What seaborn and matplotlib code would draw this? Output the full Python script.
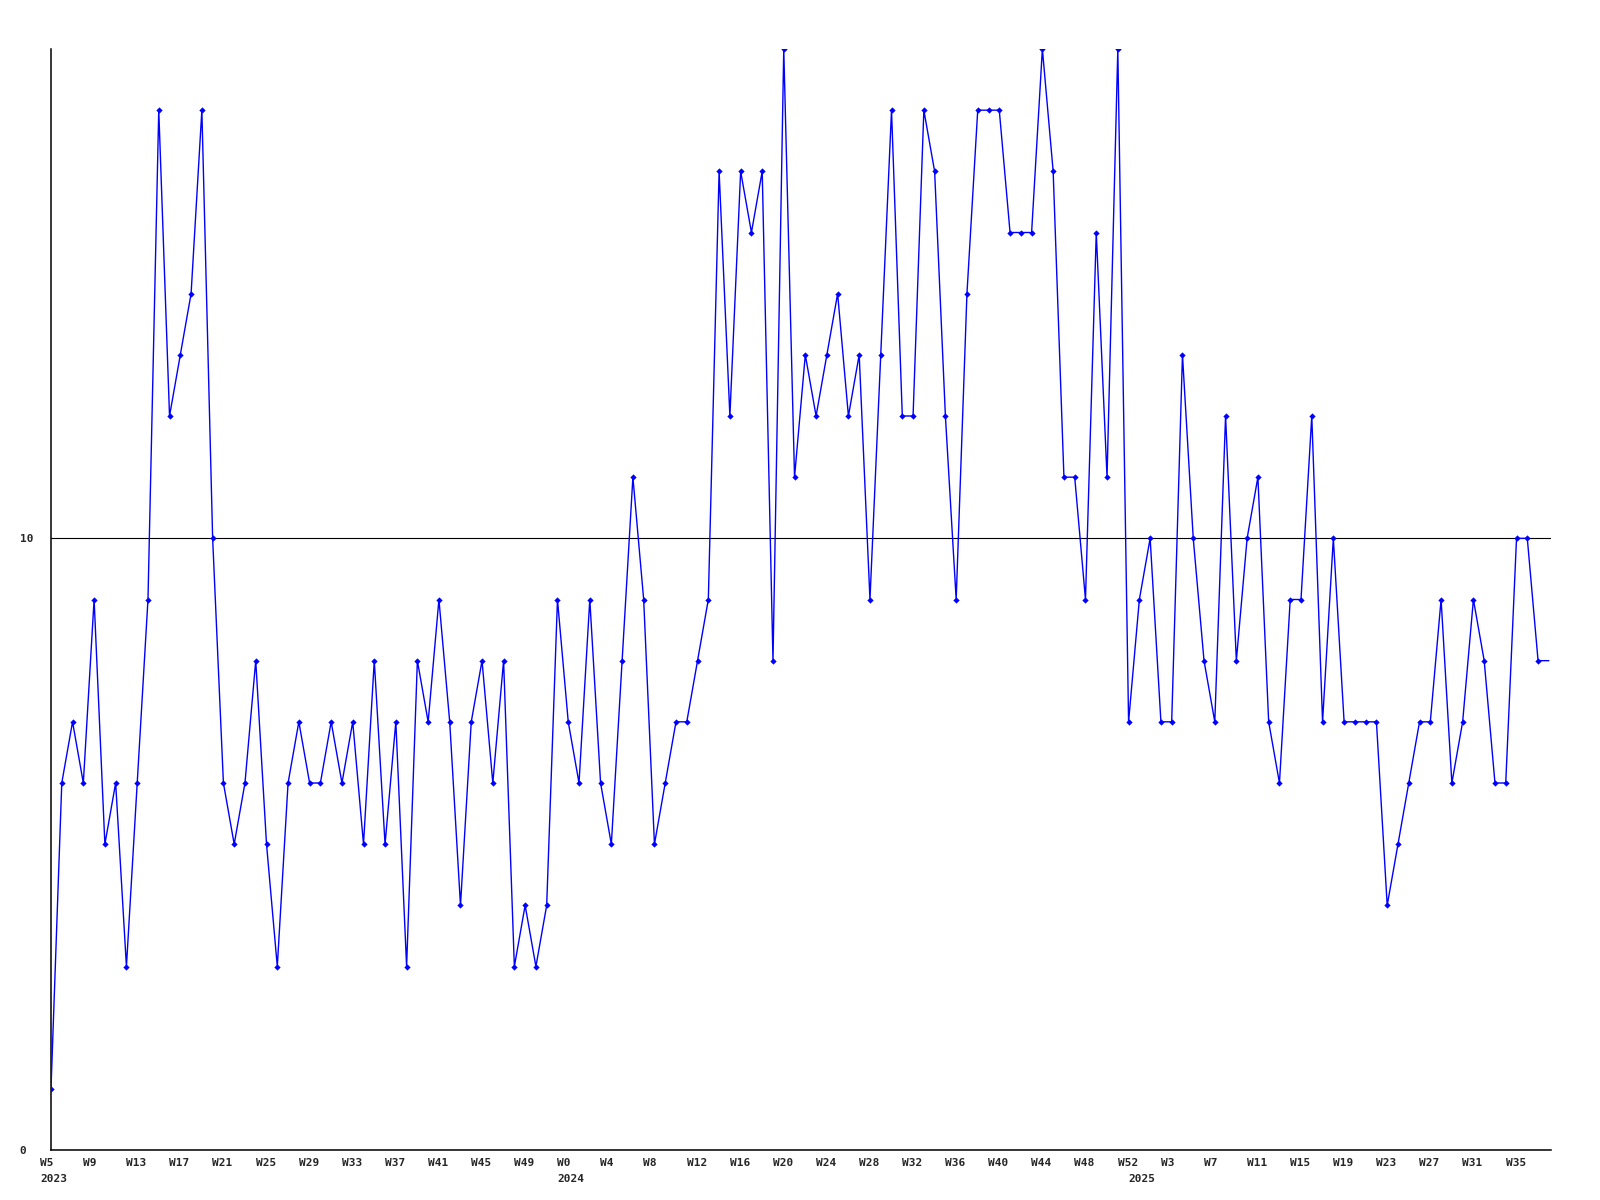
import matplotlib
matplotlib.use("Agg")
import matplotlib.pyplot as plt
import matplotlib.transforms as mtransforms
import numpy as np
import seaborn as sns

# weekly counts
counts_2023 = [1, 6, 7, 6, 9, 5, 6, 3, 6, 9, 17, 12, 13, 14, 17, 10, 6, 5, 6, 8, 5, 3, 6, 7,
               6, 6, 7, 6, 7, 5, 8, 5, 7, 3, 8, 7, 9, 7, 4, 7, 8, 6, 8, 3, 4, 3, 4, 9]
counts_2024 = [7, 6, 9, 6, 5, 8, 11, 9, 5, 6, 7, 7, 8, 9, 16, 12, 16, 15, 16, 8, 18, 11, 13,
               12, 13, 14, 12, 13, 9, 13, 17, 12, 12, 17, 16, 12, 9, 14, 17, 17, 17, 15, 15,
               15, 18, 16, 11, 11, 9, 15, 11, 18, 7]
counts_2025 = [9, 10, 7, 7, 13, 10, 8, 7, 12, 8, 10, 11, 7, 6, 9, 9, 12, 7, 10, 7, 7, 7, 7,
               4, 5, 6, 7, 7, 9, 6, 7, 9, 8, 6, 6, 10, 10, 8, 8]

weeks_2023 = list(range(5, 53))
weeks_2024 = list(range(0, 53))
weeks_2025 = list(range(0, 39))
years = ["2023", "2024", "2025"]
y_ticks = [0, 10]

counts = counts_2023 + counts_2024 + counts_2025
weeks = weeks_2023 + weeks_2024 + weeks_2025
x = np.arange(len(counts))

sns.set_style("white")
plt.rcParams["font.family"] = ["DejaVu Sans Mono"]

fig = plt.figure(figsize=(16, 12), dpi=100)
ax = fig.add_axes([51 / 1600, 1 - 1150 / 1200, 1500 / 1600, 1101 / 1200])

# last point sits past the right edge, so no marker for it
sns.lineplot(x=x, y=counts, ax=ax, color="#0000ff", linewidth=1.0,
             marker="D", markersize=3.2, markeredgewidth=0,
             markevery=list(range(len(counts) - 1)), zorder=3)

ax.set_xlim(0, 139.2)
ax.set_ylim(0, 18)

for s in ["top", "right"]:
    ax.spines[s].set_visible(False)
for s in ["left", "bottom"]:
    ax.spines[s].set_color("black")
    ax.spines[s].set_linewidth(1.1)

ax.set_yticks(y_ticks, [str(v) for v in y_ticks])
ax.grid(axis="y", color="black", linewidth=0.8)
ax.grid(axis="x", visible=False)

# week labels every 4th point, year labels at the first point of each year
tick_idx = x[::4]
ax.set_xticks(tick_idx, ["W%d" % weeks[i] for i in tick_idx])
year_start = [0, len(counts_2023), len(counts_2023) + len(counts_2024)]
ax.xaxis.remove_overlapping_locs = False
ax.set_xticks(year_start, years, minor=True)

ax.tick_params(axis="x", which="major", length=0, pad=5.5)
ax.tick_params(axis="x", which="minor", length=0, pad=17)
ax.tick_params(axis="y", length=0, pad=22.5)

shift = mtransforms.ScaledTranslation(-11 / 100, 0, fig.dpi_scale_trans)
for lab in ax.get_xticklabels(which="both"):
    lab.set_horizontalalignment("left")
    lab.set_transform(lab.get_transform() + shift)
    lab.set_fontweight("bold")
    lab.set_fontsize(8)
for lab in ax.get_yticklabels():
    lab.set_horizontalalignment("left")
    lab.set_fontweight("bold")
    lab.set_fontsize(8)

ax.set_xlabel("")
ax.set_ylabel("")

fig.savefig("out.png", dpi=100)
